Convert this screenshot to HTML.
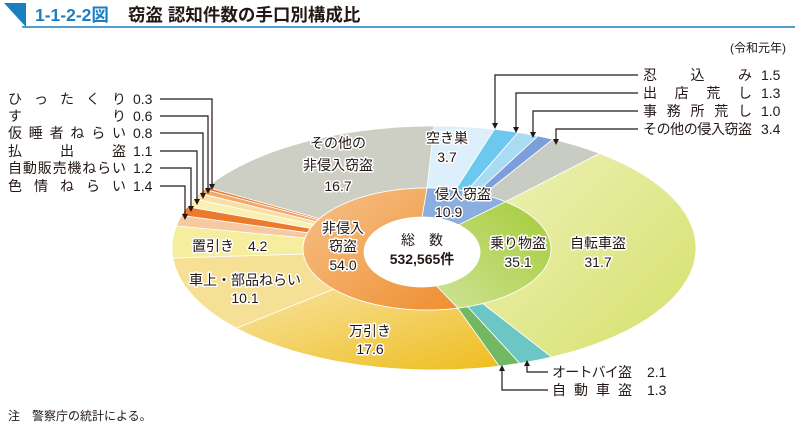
<!DOCTYPE html>
<html><head><meta charset="utf-8">
<style>
body{margin:0;background:#fff;}
svg{display:block;font-family:"Liberation Sans","Noto Sans CJK JP",sans-serif;}
.lb{font-size:14px;fill:#231815;paint-order:stroke;stroke:#fff;stroke-width:3px;stroke-linejoin:round;}
.tx{font-size:14px;fill:#231815;}
</style></head><body>
<svg id="s" width="795" height="431" viewBox="0 0 795 431" xmlns="http://www.w3.org/2000/svg">
<defs>
<linearGradient id="gb" x1="0" y1="0" x2="1" y2="1"><stop offset="0" stop-color="#eef1b8"/><stop offset="1" stop-color="#d6e06a"/></linearGradient>
<linearGradient id="gm" x1="0" y1="0" x2="1" y2="1"><stop offset="0" stop-color="#f8e3a0"/><stop offset="1" stop-color="#eebd1e"/></linearGradient>
<linearGradient id="go" x1="0" y1="0" x2="1" y2="1"><stop offset="0" stop-color="#f6c28a"/><stop offset="1" stop-color="#ef8e30"/></linearGradient>
<linearGradient id="gg" x1="1" y1="0" x2="0" y2="1"><stop offset="0" stop-color="#a4cc38"/><stop offset="1" stop-color="#cfe296"/></linearGradient>
</defs>
<polygon points="4,3 26,3 26,27" fill="#1a7fc1"/>
<line x1="22" y1="27" x2="795" y2="27" stroke="#1a7fc1" stroke-width="1.5"/>
<text x="35" y="21" font-size="17.5" font-weight="bold" fill="#1a7fc1">1-1-2-2図</text>
<text x="128" y="21" font-size="17.5" font-weight="bold" fill="#231815">窃盗 認知件数の手口別構成比</text>
<text x="786" y="52" font-size="12" fill="#231815" text-anchor="end">(令和元年)</text>
<text x="8" y="420" font-size="12" fill="#231815">注　警察庁の統計による。</text>
<g id="pie"></g>
<g id="labels">
<text class="lb" x="338" y="148" text-anchor="middle">その他の</text>
<text class="lb" x="338" y="170" text-anchor="middle">非侵入窃盗</text>
<text class="lb" x="338" y="191" text-anchor="middle">16.7</text>
<text class="lb" x="447" y="143" text-anchor="middle">空き巣</text>
<text class="lb" x="447" y="162" text-anchor="middle">3.7</text>
<text class="lb" x="435" y="199">侵入窃盗</text>
<text class="lb" x="435" y="217">10.9</text>
<text class="lb" x="343" y="233" text-anchor="middle">非侵入</text>
<text class="lb" x="343" y="251" text-anchor="middle">窃盗</text>
<text class="lb" x="343" y="270" text-anchor="middle">54.0</text>
<text class="tx" x="422" y="245" text-anchor="middle">総　数</text>
<text class="tx" x="422" y="264" text-anchor="middle" font-weight="bold">532,565件</text>
<text class="lb" x="518" y="248" text-anchor="middle">乗り物盗</text>
<text class="lb" x="518" y="267" text-anchor="middle">35.1</text>
<text class="lb" x="598" y="248" text-anchor="middle">自転車盗</text>
<text class="lb" x="598" y="267" text-anchor="middle">31.7</text>
<text class="lb" x="192" y="251">置引き　4.2</text>
<text class="lb" x="245" y="285" text-anchor="middle">車上・部品ねらい</text>
<text class="lb" x="245" y="303" text-anchor="middle">10.1</text>
<text class="lb" x="370" y="336" text-anchor="middle">万引き</text>
<text class="lb" x="370" y="354" text-anchor="middle">17.6</text>
</g>
<g fill="none" stroke="#231815" stroke-width="1.2">
<polyline points="160,99 212,99 212,184"/>
<polyline points="160,116 208,116 208,188"/>
<polyline points="160,133 203,133 203,193"/>
<polyline points="160,151 197,151 197,199"/>
<polyline points="160,168 191,168 191,206"/>
<polyline points="160,186 185,186 185,214"/>
<polyline points="638,75 495,75 495,123"/>
<polyline points="638,93 516,93 516,127"/>
<polyline points="638,111 533,111 533,132"/>
<polyline points="638,129 556,129 556,139"/>
<polyline points="548,372 527,372 527,366"/>
<polyline points="548,390 502,390 502,371"/>
</g>
<g fill="#231815">
<polygon points="209,184 215,184 212,190"/>
<polygon points="205,188 211,188 208,194"/>
<polygon points="200,193 206,193 203,199"/>
<polygon points="194,199 200,199 197,205"/>
<polygon points="188,206 194,206 191,212"/>
<polygon points="182,214 188,214 185,220"/>
<polygon points="492,123 498,123 495,129"/>
<polygon points="513,127 519,127 516,133"/>
<polygon points="530,132 536,132 533,138"/>
<polygon points="553,139 559,139 556,145"/>
<polygon points="524,366 530,366 527,360"/>
<polygon points="499,371 505,371 502,365"/>
</g>
<g class="tx">
<text class="tx" x="8" y="104" textLength="118" lengthAdjust="spacing">ひったくり</text>
<text class="tx" x="8" y="121" textLength="118" lengthAdjust="spacing">すり</text>
<text class="tx" x="8" y="138" textLength="118" lengthAdjust="spacing">仮睡者ねらい</text>
<text class="tx" x="8" y="156" textLength="118" lengthAdjust="spacing">払出盗</text>
<text class="tx" x="8" y="173" textLength="118" lengthAdjust="spacing">自動販売機ねらい</text>
<text class="tx" x="8" y="191" textLength="118" lengthAdjust="spacing">色情ねらい</text>
<text class="tx" x="133" y="104">0.3</text><text class="tx" x="133" y="121">0.6</text>
<text class="tx" x="133" y="138">0.8</text><text class="tx" x="133" y="156">1.1</text>
<text class="tx" x="133" y="173">1.2</text><text class="tx" x="133" y="191">1.4</text>
<text class="tx" x="643" y="80" textLength="109" lengthAdjust="spacing">忍込み</text>
<text class="tx" x="643" y="98" textLength="109" lengthAdjust="spacing">出店荒し</text>
<text class="tx" x="643" y="116" textLength="109" lengthAdjust="spacing">事務所荒し</text>
<text class="tx" x="643" y="134" textLength="109" lengthAdjust="spacing">その他の侵入窃盗</text>
<text class="tx" x="761" y="80">1.5</text><text class="tx" x="761" y="98">1.3</text>
<text class="tx" x="761" y="116">1.0</text><text class="tx" x="761" y="134">3.4</text>
<text class="tx" x="552" y="377" textLength="80" lengthAdjust="spacing">オートバイ盗</text>
<text class="tx" x="552" y="395" textLength="80" lengthAdjust="spacing">自動車盗</text>
<text class="tx" x="647" y="377">2.1</text><text class="tx" x="647" y="395">1.3</text>
</g>
</svg>
<script>
(function(){
var NS="http://www.w3.org/2000/svg",g=document.getElementById("pie");
function pt(cx,cy,rx,ry,f){var a=f*2*Math.PI;return [cx+rx*Math.sin(a),cy-ry*Math.cos(a)];}
function seg(o,i,f0,f1,col){
 var p=[],n=40,k,f;
 for(k=0;k<=n;k++){f=f0+(f1-f0)*k/n;p.push(pt(o[0],o[1],o[2],o[3],f));}
 for(k=n;k>=0;k--){f=f0+(f1-f0)*k/n;p.push(pt(i[0],i[1],i[2],i[3],f));}
 var e=document.createElementNS(NS,"path");
 e.setAttribute("d","M"+p.map(function(q){return q[0].toFixed(1)+","+q[1].toFixed(1)}).join("L")+"Z");
 e.setAttribute("fill",col);e.setAttribute("stroke","#fff");e.setAttribute("stroke-width","0.8");
 g.appendChild(e);
}
var O=[434,248,262,122],M=[427,249,124,61],H=[422,252,58,35];
var outer=[[3.7,"#dceffa"],[1.5,"#6cc8ef"],[1.3,"#a9dcf3"],[1.0,"#7c9fdc"],[3.4,"#c9ccc2"],
[31.7,"url(#gb)"],[2.1,"#6cc6c4"],[1.3,"#72b862"],[17.6,"url(#gm)"],[10.1,"#f6e096"],[4.2,"#f4ee9e"],
[1.4,"#f6c9a0"],[1.2,"#ec7a2c"],[1.1,"#faf0b2"],[0.8,"#f8dfa4"],[0.6,"#f1a86a"],[0.3,"#e8772a"],[16.7,"#cdcec4"]];
var inner=[[10.9,"#8aaee0"],[35.1,"url(#gg)"],[54.0,"url(#go)"]];
var c=0;outer.forEach(function(s){seg(O,M,c/100,(c+s[0])/100,s[1]);c+=s[0];});
c=0;inner.forEach(function(s){seg(M,H,c/100,(c+s[0])/100,s[1]);c+=s[0];});
var h=document.createElementNS(NS,"ellipse");
h.setAttribute("cx",H[0]);h.setAttribute("cy",H[1]);h.setAttribute("rx",H[2]);h.setAttribute("ry",H[3]);h.setAttribute("fill","#fff");
g.appendChild(h);
})();
</script>
</body></html>
